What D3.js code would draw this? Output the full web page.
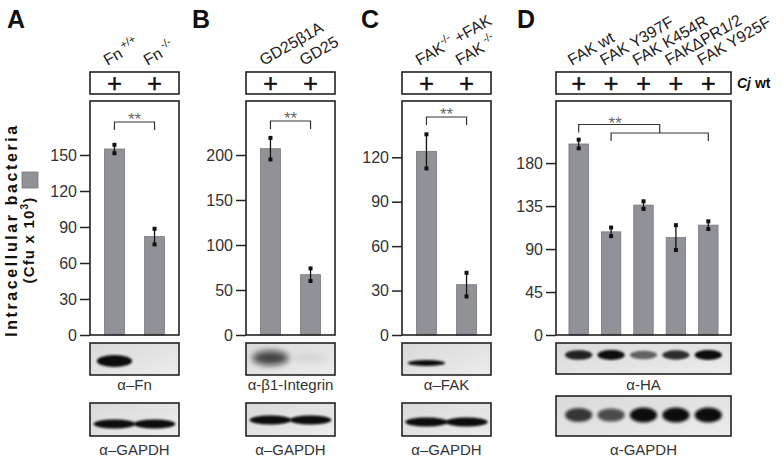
<!DOCTYPE html>
<html><head><meta charset="utf-8">
<script src="https://cdn.jsdelivr.net/npm/d3@7"></script>
<style>body{margin:0;background:#fff} svg{font-family:Arial,"Liberation Sans",sans-serif}</style>
</head><body>
<svg id="c" width="784" height="460"></svg>
<script>
// ---------- data ----------
const catsA = [["Fn"," +/+"],["Fn"," -/-"]];
const valsA = [155, 82];
const errsA = [3.5, 6.5];
const ticksA = [0, 30, 60, 90, 120, 150];

const catsB = [["GD25β1A"],["GD25"]];
const valsB = [207, 67];
const errsB = [12, 7];
const ticksB = [0, 50, 100, 150, 200];

const catsC = [["FAK","-/-"," +FAK"],["FAK"," -/-"]];
const valsC = [124, 34];
const errsC = [11.5, 8];
const ticksC = [0, 30, 60, 90, 120];

const catsD = [["FAK wt"],["FAK Y397F"],["FAK K454R"],["FAKΔPR1/2"],["FAK Y925F"]];
const valsD = [200, 108, 136, 102, 115];
const errsD = [4.5, 4.5, 4, 13, 4];
const ticksD = [0, 45, 90, 135, 180];

const yMax = [195, 260, 158, 245];
const letters = ["A", "B", "C", "D"];

const blotLabelsA = ["α–Fn", "α–GAPDH"];
const blotLabelsB = ["α-β1-Integrin", "α–GAPDH"];
const blotLabelsC = ["α–FAK", "α–GAPDH"];
const blotLabelsD = ["α-HA", "α-GAPDH"];

// band intensity per lane (top blot, GAPDH blot)
const bandsA = [[1.0, 0.0], [1.0, 1.0]];
const bandsB = [[0.75, 0.06], [1.0, 1.0]];
const bandsC = [[1.0, 0.0], [1.0, 1.0]];
const bandsD = [[0.9, 1.0, 0.6, 0.85, 1.0], [0.8, 0.7, 1.0, 1.0, 1.0]];

const infectLabel = ["Cj", " wt"];
const yTitle = "Intracellular bacteria";
const yUnit = ["(Cfu x 10", "3", ")"];

// ---------- layout ----------
const panels = [
  {cats: catsA, vals: valsA, errs: errsA, ticks: ticksA, x0: 90, x1: 179, lx: 7,
   blots: blotLabelsA, bands: bandsA,
   bs: [{t:343,b:375,cy:361,ry:6,rx:0.44,blur:1.3},{t:403,b:436,cy:424,ry:4.5,rx:0.52,blur:1.2}]},
  {cats: catsB, vals: valsB, errs: errsB, ticks: ticksB, x0: 246, x1: 335, lx: 192,
   blots: blotLabelsB, bands: bandsB,
   bs: [{t:343,b:375,cy:358,ry:8,rx:0.45,blur:3},{t:403,b:436,cy:420,ry:4.5,rx:0.52,blur:1.2}]},
  {cats: catsC, vals: valsC, errs: errsC, ticks: ticksC, x0: 402, x1: 491, lx: 361,
   blots: blotLabelsC, bands: bandsC,
   bs: [{t:343,b:375,cy:363,ry:3,rx:0.47,blur:1},{t:403,b:436,cy:422,ry:4.5,rx:0.53,blur:1.2}]},
  {cats: catsD, vals: valsD, errs: errsD, ticks: ticksD, x0: 556, x1: 731, lx: 517,
   blots: blotLabelsD, bands: bandsD,
   bs: [{t:343,b:374,cy:355,ry:5,rx:0.42,blur:1.2},{t:396,b:436,cy:415,ry:7.5,rx:0.42,blur:1.5}]}
];

const svg = d3.select("#c");
const defs = svg.append("defs");
[1, 1.2, 1.3, 1.5, 3].forEach(s => {
  defs.append("filter").attr("id", "bl" + String(s).replace(".", "_"))
    .attr("x", "-50%").attr("y", "-100%").attr("width", "200%").attr("height", "300%")
    .append("feGaussianBlur").attr("stdDeviation", s);
});
const grad = defs.append("linearGradient").attr("id", "blotbg").attr("x1", 0).attr("x2", 1).attr("y1", 0).attr("y2", 1);
grad.append("stop").attr("offset", 0).attr("stop-color", "#d9d9d9");
grad.append("stop").attr("offset", 1).attr("stop-color", "#ececec");

const plotTop = 101, plotBot = 335, boxTop = 72, boxBot = 94;
const ink = "#222", barFill = "#909297", barStroke = "#77797d";

panels.forEach((p, i) => {
  const g = svg.append("g");
  const n = p.cats.length;
  const x = d3.scaleBand().domain(d3.range(n)).range([p.x0, p.x1])
    .paddingInner(n > 2 ? 0.4 : 0.5).paddingOuter(n > 2 ? 0.4 : 0.36);
  const y = d3.scaleLinear().domain([0, yMax[i]]).range([plotBot, plotTop]);
  const cx = k => x(k) + x.bandwidth() / 2;

  // panel letter
  g.append("text").attr("x", p.lx).attr("y", 28).attr("font-size", 25).attr("font-weight", "bold")
    .attr("fill", "#111").text(letters[i]);

  // rotated category labels
  p.cats.forEach((c, k) => {
    const t = g.append("text").attr("transform", `translate(${cx(k) - 7},66) rotate(-30)`)
      .attr("font-size", 16).attr("fill", ink);
    t.append("tspan").text(c[0]);
    if (c.length > 1) t.append("tspan").attr("font-size", 11).attr("dy", -7).text(c[1]);
    if (c.length > 2) t.append("tspan").attr("dy", 7).text(c[2]);
  });

  // infection box
  g.append("rect").attr("x", p.x0).attr("y", boxTop).attr("width", p.x1 - p.x0).attr("height", boxBot - boxTop)
    .attr("fill", "none").attr("stroke", ink).attr("stroke-width", 1.6);
  p.cats.forEach((c, k) => {
    g.append("text").attr("x", cx(k)).attr("y", 92).attr("text-anchor", "middle")
      .attr("font-size", 25).attr("fill", "#111").attr("stroke", "#111").attr("stroke-width", 0.5).text("+");
  });

  // bars
  g.selectAll(".bar").data(p.vals).join("rect")
    .attr("x", (d, k) => x(k)).attr("width", x.bandwidth())
    .attr("y", d => y(d)).attr("height", d => plotBot - y(d))
    .attr("fill", barFill).attr("stroke", barStroke).attr("stroke-width", 0.8);

  // error bars
  p.vals.forEach((v, k) => {
    const e = p.errs[k];
    g.append("line").attr("x1", cx(k)).attr("x2", cx(k)).attr("y1", y(v + e)).attr("y2", y(v - e))
      .attr("stroke", "#111").attr("stroke-width", 1.3);
    [v + e, v - e].forEach(w => {
      g.append("rect").attr("x", cx(k) - 2).attr("y", y(w) - 2).attr("width", 4).attr("height", 4).attr("fill", "#111");
    });
  });

  // axis
  const ax = g.append("g").attr("transform", `translate(${p.x0},0)`)
    .call(d3.axisLeft(y).tickValues(p.ticks).tickSize(10).tickPadding(3));
  ax.select(".domain").remove();
  ax.selectAll(".tick line").attr("stroke", ink).attr("stroke-width", 1.5);
  ax.selectAll(".tick text").attr("font-size", 16).attr("fill", "#333")
    .attr("font-family", "Arial, 'Liberation Sans', sans-serif");

  // frame
  g.append("rect").attr("x", p.x0).attr("y", plotTop).attr("width", p.x1 - p.x0).attr("height", plotBot - plotTop)
    .attr("fill", "none").attr("stroke", ink).attr("stroke-width", 1.6);

  // significance brackets
  const br = (xa, xb, yy, legL, legR) => {
    g.append("path").attr("d", `M${xa},${yy + legL}V${yy}H${xb}V${yy + legR}`)
      .attr("fill", "none").attr("stroke", "#333").attr("stroke-width", 1.2);
  };
  const star = (xx, yy) => g.append("text").attr("x", xx).attr("y", yy).attr("text-anchor", "middle")
    .attr("font-size", 17).attr("fill", "#6a6a6a").text("**");
  if (n === 2) {
    const by = plotTop + [21, 20, 16][i];
    br(cx(0), cx(1), by, 8, 8);
    star((cx(0) + cx(1)) / 2, by + 3);
  } else {
    const by2 = plotTop + 32, by1 = plotTop + 23.5;
    const mid = (cx(1) + cx(4)) / 2;
    br(cx(1), cx(4), by2, 8, 8);
    br(cx(0), mid, by1, 8, by2 - by1);
    star((cx(0) + mid) / 2 - 4, by1 + 4);
  }

  // western blots
  p.bs.forEach((b, j) => {
    g.append("rect").attr("x", p.x0).attr("y", b.t).attr("width", p.x1 - p.x0).attr("height", b.b - b.t)
      .attr("fill", "url(#blotbg)");
    p.bands[j].forEach((inten, k) => {
      if (inten <= 0) return;
      g.append("ellipse").attr("cx", cx(k)).attr("cy", b.cy)
        .attr("rx", x.step() * b.rx).attr("ry", b.ry * (0.6 + 0.4 * inten))
        .attr("fill", "#0d0d0d").attr("opacity", inten)
        .attr("filter", `url(#bl${String(b.blur).replace(".", "_")})`);
    });
    g.append("rect").attr("x", p.x0).attr("y", b.t).attr("width", p.x1 - p.x0).attr("height", b.b - b.t)
      .attr("fill", "none").attr("stroke", ink).attr("stroke-width", 1.6);
    g.append("text").attr("x", (p.x0 + p.x1) / 2).attr("y", j === 0 ? 390 : 455)
      .attr("text-anchor", "middle").attr("font-size", 15).attr("fill", "#333").text(p.blots[j]);
  });
});

// infection label
const cj = svg.append("text").attr("x", 737).attr("y", 88).attr("font-size", 14).attr("font-weight", "bold").attr("fill", "#111");
cj.append("tspan").attr("font-style", "italic").text(infectLabel[0]);
cj.append("tspan").text(infectLabel[1]);

// y-axis title
svg.append("text").attr("transform", "translate(17,230) rotate(-90)").attr("text-anchor", "middle")
  .attr("font-size", 16).attr("font-weight", "bold").attr("letter-spacing", 2.6).attr("fill", "#111").text(yTitle);
const u = svg.append("text").attr("transform", "translate(34,240) rotate(-90)").attr("text-anchor", "middle")
  .attr("font-size", 15).attr("font-weight", "bold").attr("letter-spacing", 1.2).attr("fill", "#111");
u.append("tspan").text(yUnit[0]);
u.append("tspan").attr("font-size", 10).attr("dy", -6).text(yUnit[1]);
u.append("tspan").attr("dy", 6).text(yUnit[2]);
svg.append("rect").attr("x", 22).attr("y", 172).attr("width", 16).attr("height", 16)
  .attr("fill", barFill).attr("stroke", barStroke).attr("stroke-width", 0.8);
</script>
</body></html>
